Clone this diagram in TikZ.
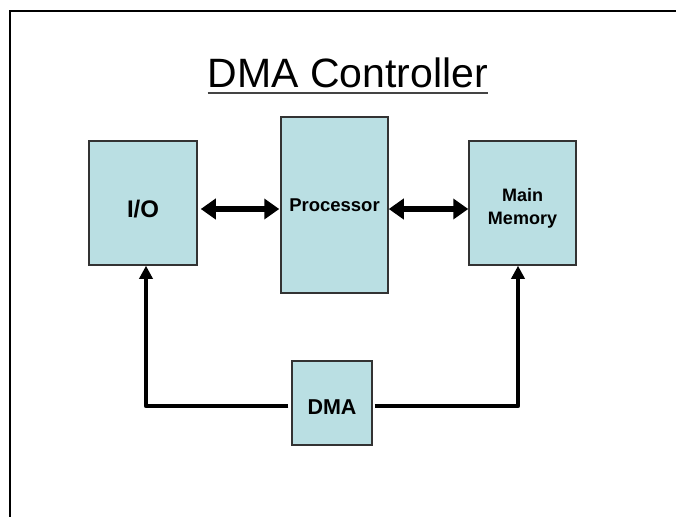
\documentclass[tikz,border=0pt]{standalone}
\usepackage{fontspec}
\setmainfont{Liberation Sans}
\usetikzlibrary{arrows.meta}
\definecolor{boxfill}{HTML}{BADFE3}
\definecolor{boxline}{HTML}{333333}
\definecolor{ulgray}{HTML}{444444}
\tikzset{
  unitbox/.style={draw=boxline, line width=1.5pt, fill=boxfill, inner sep=0pt, align=center, font=\bfseries},
  busarrow/.style={line width=5.5pt, {Triangle[length=15pt,width=20pt]}-{Triangle[length=15pt,width=20pt]}},
  ctrlarrow/.style={line width=4.5pt, -{Triangle[length=13pt,width=13pt]}, line join=round},
}
\begin{document}
\begin{tikzpicture}[x=1pt,y=-1pt]
\useasboundingbox (0,0) rectangle (676,516);
% frame
\draw[line width=2.5pt] (10,530) -- (10,11) -- (690,11);
% title
\node[inner sep=0pt, anchor=base, font=\fontsize{41}{44}\selectfont] (title) at (348,88) {DMA Controller};
\draw[ulgray, line width=2pt] ([yshift=-5pt]title.base west) -- ([yshift=-5pt]title.base east);
% boxes
\node[unitbox, minimum width=108pt, minimum height=124pt, text height=29pt, text depth=0pt, font=\bfseries\fontsize{24}{26}\selectfont] (io) at (143,203) {I/O};
\node[unitbox, minimum width=107pt, minimum height=176pt, font=\bfseries\fontsize{18.5}{20}\selectfont] (proc) at (334.5,205) {Processor};
\node[unitbox, minimum width=107pt, minimum height=124pt, font=\bfseries\fontsize{18}{23}\selectfont] (mem) at (522.5,203) {\raisebox{-5pt}[\height][\depth]{\begin{tabular}{@{}c@{}}Main\\Memory\end{tabular}}};
\node[unitbox, minimum width=80pt, minimum height=84pt, text height=23pt, text depth=0pt, font=\bfseries\fontsize{21.5}{24}\selectfont] (dma) at (332,403) {DMA};
% bus arrows
\coordinate (a1) at ([yshift=-6pt,xshift=3pt]io.east);
\draw[busarrow] (a1) -- ([xshift=-1pt]a1 -| proc.west);
\coordinate (a2) at ([yshift=-6pt]mem.west);
\draw[busarrow] (a2 -| proc.east) -- (a2);
% control arrows
\draw[ctrlarrow] ([xshift=-3pt,yshift=-3pt]dma.west) -| ([xshift=3pt]io.south);
\draw[ctrlarrow] ([xshift=2pt,yshift=-3pt]dma.east) -| ([xshift=-4.5pt]mem.south);
\end{tikzpicture}
\end{document}
